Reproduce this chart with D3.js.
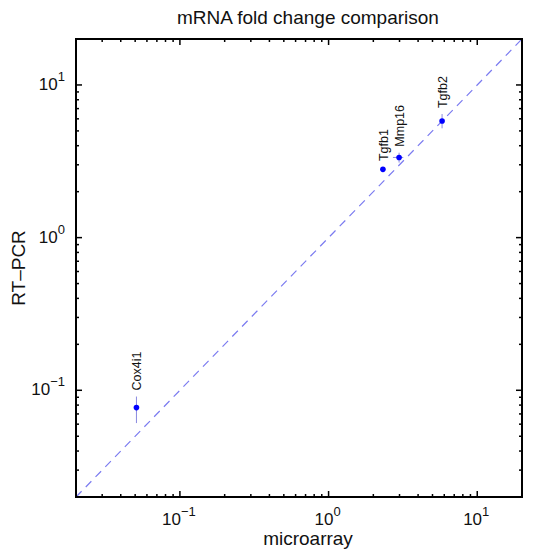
<!DOCTYPE html>
<html>
<head>
<meta charset="utf-8">
<script src="https://cdn.jsdelivr.net/npm/d3@7"></script>
<style>
  body { margin: 0; background: #fff; }
  text { font-family: "Liberation Sans", Arial, sans-serif; fill: #111; }
</style>
</head>
<body>
<div id="chart"></div>
<script>
// data
const genes = ['Cox4i1', 'Tgfb1', 'Mmp16', 'Tgfb2']
const microarray = [0.051, 2.32, 2.98, 5.8]
const rtpcr = [0.077, 2.8, 3.35, 5.8]
const yLow = [0.061, 2.72, 3.1, 5.2]
const yHigh = [0.091, 2.9, 3.6, 6.45]
const xLow = [0.051, 2.32, 2.71, 5.8]
const xHigh = [0.051, 2.32, 3.18, 5.8]
const domain = [0.02, 20]
const tickVals = [0.1, 1, 10]
const tickExp = ['\u22121', '0', '1']

const W = 536, H = 551
const margin = { top: 39, right: 14, bottom: 54, left: 76 }
const innerW = W - margin.left - margin.right
const innerH = H - margin.top - margin.bottom

const svg = d3.select('#chart').append('svg').attr('width', W).attr('height', H)
const g = svg.append('g').attr('transform', `translate(${margin.left},${margin.top})`)

const x = d3.scaleLog().domain(domain).range([0, innerW])
const y = d3.scaleLog().domain(domain).range([innerH, 0])

// minor ticks
const minor = []
for (let e = -2; e <= 1; e++) {
  for (let m = 1; m <= 9; m++) {
    const v = m * Math.pow(10, e)
    if (v >= domain[0] && v <= domain[1]) minor.push(v)
  }
}
function tickLen (v) { return tickVals.includes(v) ? 6 : 3 }

const ticks = g.append('g').attr('stroke', '#000').attr('stroke-width', 1.5)
minor.forEach(v => {
  const L = tickLen(v)
  ticks.append('line').attr('x1', x(v)).attr('x2', x(v)).attr('y1', innerH).attr('y2', innerH - L)
  ticks.append('line').attr('x1', x(v)).attr('x2', x(v)).attr('y1', 0).attr('y2', L)
  ticks.append('line').attr('y1', y(v)).attr('y2', y(v)).attr('x1', 0).attr('x2', L)
  ticks.append('line').attr('y1', y(v)).attr('y2', y(v)).attr('x1', innerW).attr('x2', innerW - L)
})

// diagonal
g.append('line')
  .attr('x1', x(domain[0])).attr('y1', y(domain[0]))
  .attr('x2', x(domain[1])).attr('y2', y(domain[1]))
  .attr('stroke', '#7b7bf0').attr('stroke-width', 1.2).attr('stroke-dasharray', '8,6')

// error bars
genes.forEach((name, i) => {
  g.append('line')
    .attr('x1', x(microarray[i])).attr('x2', x(microarray[i]))
    .attr('y1', y(yLow[i])).attr('y2', y(yHigh[i]))
    .attr('stroke', '#8a8ae0').attr('stroke-width', 1)
  if (xLow[i] !== xHigh[i]) {
    g.append('line')
      .attr('x1', x(xLow[i])).attr('x2', x(xHigh[i]))
      .attr('y1', y(rtpcr[i])).attr('y2', y(rtpcr[i]))
      .attr('stroke', '#8a8ae0').attr('stroke-width', 1)
  }
})

// points
g.selectAll('circle.pt').data(genes).enter().append('circle')
  .attr('cx', (d, i) => x(microarray[i]))
  .attr('cy', (d, i) => y(rtpcr[i]))
  .attr('r', 2.8)
  .attr('fill', '#0000ff')

// labels
g.selectAll('text.lbl').data(genes).enter().append('text')
  .attr('transform', (d, i) => `translate(${x(microarray[i]) + 5},${y(yHigh[i]) - 6})rotate(-90)`)
  .style('font-size', '12.5px')
  .text(d => d)

// box
g.append('rect').attr('width', innerW).attr('height', innerH)
  .attr('fill', 'none').attr('stroke', '#000').attr('stroke-width', 2)

// tick labels
tickVals.forEach((v, i) => {
  const tx = g.append('text').attr('x', x(v) - 1).attr('y', innerH + 28)
    .attr('text-anchor', 'middle').style('font-size', '17px')
  tx.append('tspan').text('10')
  tx.append('tspan').attr('dy', -9).style('font-size', '13px').text(tickExp[i])

  const ty = g.append('text').attr('x', -11).attr('y', y(v) + 5)
    .attr('text-anchor', 'end').style('font-size', '17px')
  ty.append('tspan').text('10')
  ty.append('tspan').attr('dy', -9).style('font-size', '13px').text(tickExp[i])
})

// titles
svg.append('text').attr('x', margin.left + innerW / 2 + 9).attr('y', 24)
  .attr('text-anchor', 'middle').style('font-size', '19px').text('mRNA fold change comparison')
svg.append('text').attr('x', margin.left + innerW / 2 + 9).attr('y', 545)
  .attr('text-anchor', 'middle').style('font-size', '19px').text('microarray')
svg.append('text').attr('transform', `translate(25,${margin.top + innerH / 2})rotate(-90)`)
  .attr('text-anchor', 'middle').style('font-size', '19px').text('RT\u2013PCR')
</script>
</body>
</html>
